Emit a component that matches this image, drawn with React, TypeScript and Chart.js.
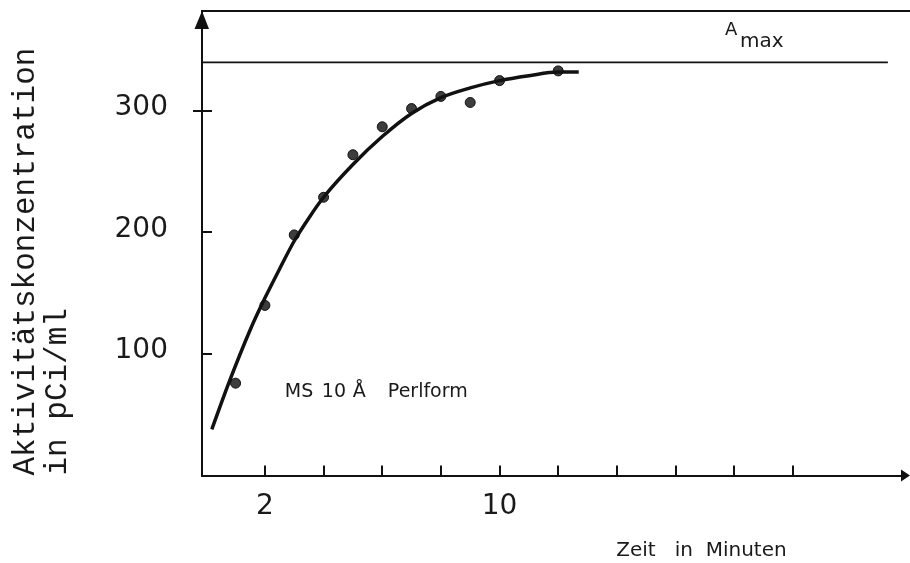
import { useEffect, useRef } from 'react';
import { Chart, registerables } from 'chart.js';

Chart.register(...registerables);

// ---- data ----
const measureTimes = [1, 2, 3, 4, 5, 6, 7, 8, 9, 10, 12];
const measuredActivity = [76, 140, 198, 229, 264, 287, 302, 312, 307, 325, 333];

const fitTimes = [0.19, 0.75, 1.5, 2, 2.5, 3, 3.5, 4, 5, 6, 7, 8, 9, 10, 11, 12, 12.7];
const fitActivity = [38, 75, 120, 146, 170, 193, 212, 229, 256, 279, 298, 311, 319, 325, 329, 332, 332];

const amaxValue = 340;
const amaxSpan = [-0.145, 23.24];

const xTickValues = [2, 4, 6, 8, 10, 12, 14, 16, 18, 20];
const xTickLabels = ['2', '', '', '', '10', '', '', '', '', ''];
const yTickValues = [100, 200, 300];
const yTickLabels = ['100', '200', '300'];

const X_MIN = -0.145;
const X_MAX = 23.79;
const Y_MIN = 0;
const Y_MAX = 382.3;

const INK = '#111111';

const decorPlugin = {
  id: 'decor',
  afterDraw(chart: any) {
    const { ctx, chartArea, scales } = chart;
    const { left, top, bottom } = chartArea;
    const W = chart.width;
    const xs = scales.x;
    const ys = scales.y;
    ctx.save();
    // top frame line
    ctx.strokeStyle = INK;
    ctx.lineWidth = 2;
    ctx.beginPath();
    ctx.moveTo(left, top);
    ctx.lineTo(W, top);
    ctx.stroke();
    // y-axis arrow head
    ctx.fillStyle = INK;
    ctx.beginPath();
    ctx.moveTo(left, top);
    ctx.lineTo(left - 7.5, top + 18);
    ctx.lineTo(left + 7, top + 18);
    ctx.closePath();
    ctx.fill();
    // x-axis arrow head
    ctx.beginPath();
    ctx.moveTo(W, bottom);
    ctx.lineTo(W - 9, bottom - 6);
    ctx.lineTo(W - 9, bottom + 6);
    ctx.closePath();
    ctx.fill();
    // short outward stub of the 300 tick (crosses the axis in the reference)
    const y300 = ys.getPixelForValue(yTickValues[2]);
    ctx.beginPath();
    ctx.moveTo(left - 9, y300);
    ctx.lineTo(left, y300);
    ctx.stroke();

    // annotation "MS 10 Å Perlform"
    ctx.fillStyle = '#1a1a1a';
    ctx.textAlign = 'left';
    ctx.textBaseline = 'alphabetic';
    ctx.font = '19px "DejaVu Sans"';
    const ax = xs.getPixelForValue(2.68);
    const ay = ys.getPixelForValue(64.6);
    ctx.fillText('MS', ax, ay);
    ctx.fillText('10', ax + 37, ay);
    ctx.fillText('Å', ax + 68, ay);
    ctx.fillText('Perlform', ax + 103, ay);

    // A_max label
    const mx = xs.getPixelForValue(17.69);
    const my = ys.getPixelForValue(362.6);
    ctx.font = '18px "DejaVu Sans"';
    ctx.fillText('A', mx, my);
    ctx.font = '20px "DejaVu Sans"';
    ctx.fillText('max', mx + 15, my + 12);

    // x-axis title
    ctx.font = '20px "DejaVu Sans"';
    const tx = xs.getPixelForValue(13.98);
    ctx.fillText('Zeit   in  Minuten', tx, bottom + 80.5);
    ctx.restore();
  },
};

export default function App() {
  const ref = useRef<HTMLCanvasElement>(null);

  useEffect(() => {
    const canvas = ref.current;
    if (!canvas) return;
    const chart = new Chart(canvas, {
      type: 'line',
      data: {
        datasets: [
          {
            label: 'fit',
            data: fitTimes.map((t, i) => ({ x: t, y: fitActivity[i] })),
            borderColor: INK,
            borderWidth: 3.5,
            pointRadius: 0,
            fill: false,
            cubicInterpolationMode: 'monotone',
          },
          {
            label: 'measured',
            data: measureTimes.map((t, i) => ({ x: t, y: measuredActivity[i] })),
            showLine: false,
            pointRadius: 5,
            pointBackgroundColor: '#3d3d3d',
            pointBorderColor: INK,
            pointBorderWidth: 1,
          },
          {
            label: 'Amax',
            data: amaxSpan.map((t) => ({ x: t, y: amaxValue })),
            borderColor: INK,
            borderWidth: 1.8,
            pointRadius: 0,
            fill: false,
          },
        ],
      } as any,
      plugins: [decorPlugin],
      options: {
        responsive: false,
        animation: false,
        devicePixelRatio: 1,
        layout: { padding: { left: 0, right: 5, top: 11, bottom: 0 } },
        plugins: {
          legend: { display: false },
          tooltip: { enabled: false },
        },
        scales: {
          x: {
            type: 'linear',
            min: X_MIN,
            max: X_MAX,
            afterBuildTicks: (s: any) => {
              s.ticks = xTickValues.map((v) => ({ value: v }));
            },
            afterFit: (s: any) => {
              s.height = 87.5;
              s.paddingLeft = 0;
              s.paddingRight = 0;
              s.paddingTop = 0;
              s.paddingBottom = 0;
            },
            border: { display: true, color: INK, width: 2 },
            grid: {
              drawOnChartArea: false,
              drawTicks: true,
              tickLength: -10,
              color: INK,
              lineWidth: 2,
            },
            ticks: {
              autoSkip: false,
              maxRotation: 0,
              padding: 24,
              color: '#1a1a1a',
              font: { family: 'DejaVu Sans', size: 28 },
              callback: (_v: any, i: number) => xTickLabels[i],
            },
          },
          y: {
            type: 'linear',
            min: Y_MIN,
            max: Y_MAX,
            afterBuildTicks: (s: any) => {
              s.ticks = yTickValues.map((v) => ({ value: v }));
            },
            afterFit: (s: any) => {
              s.width = 202;
              s.paddingLeft = 0;
              s.paddingRight = 0;
              s.paddingTop = 0;
              s.paddingBottom = 0;
            },
            border: { display: true, color: INK, width: 2 },
            grid: {
              drawOnChartArea: false,
              drawTicks: true,
              tickLength: -10,
              color: INK,
              lineWidth: 2,
            },
            ticks: {
              padding: 44,
              labelOffset: -3,
              crossAlign: 'near',
              color: '#1a1a1a',
              font: { family: 'DejaVu Sans', size: 28 },
              callback: (_v: any, i: number) => yTickLabels[i],
            },
            title: {
              display: true,
              text: ['Aktivitätskonzentration', 'in pCi/ml'],
              align: 'start',
              color: '#1a1a1a',
              font: { family: "'Liberation Mono', 'Courier New', monospace", size: 31, lineHeight: 32 / 31 },
              padding: { top: 10, bottom: 0 },
            },
          },
        },
      } as any,
    });
    return () => chart.destroy();
  }, []);

  return (
    <div style={{ position: 'absolute', left: 0, top: 0, width: 910, height: 563, background: '#ffffff' }}>
      <canvas ref={ref} width={910} height={563} style={{ display: 'block', width: 910, height: 563 }} />
    </div>
  );
}
